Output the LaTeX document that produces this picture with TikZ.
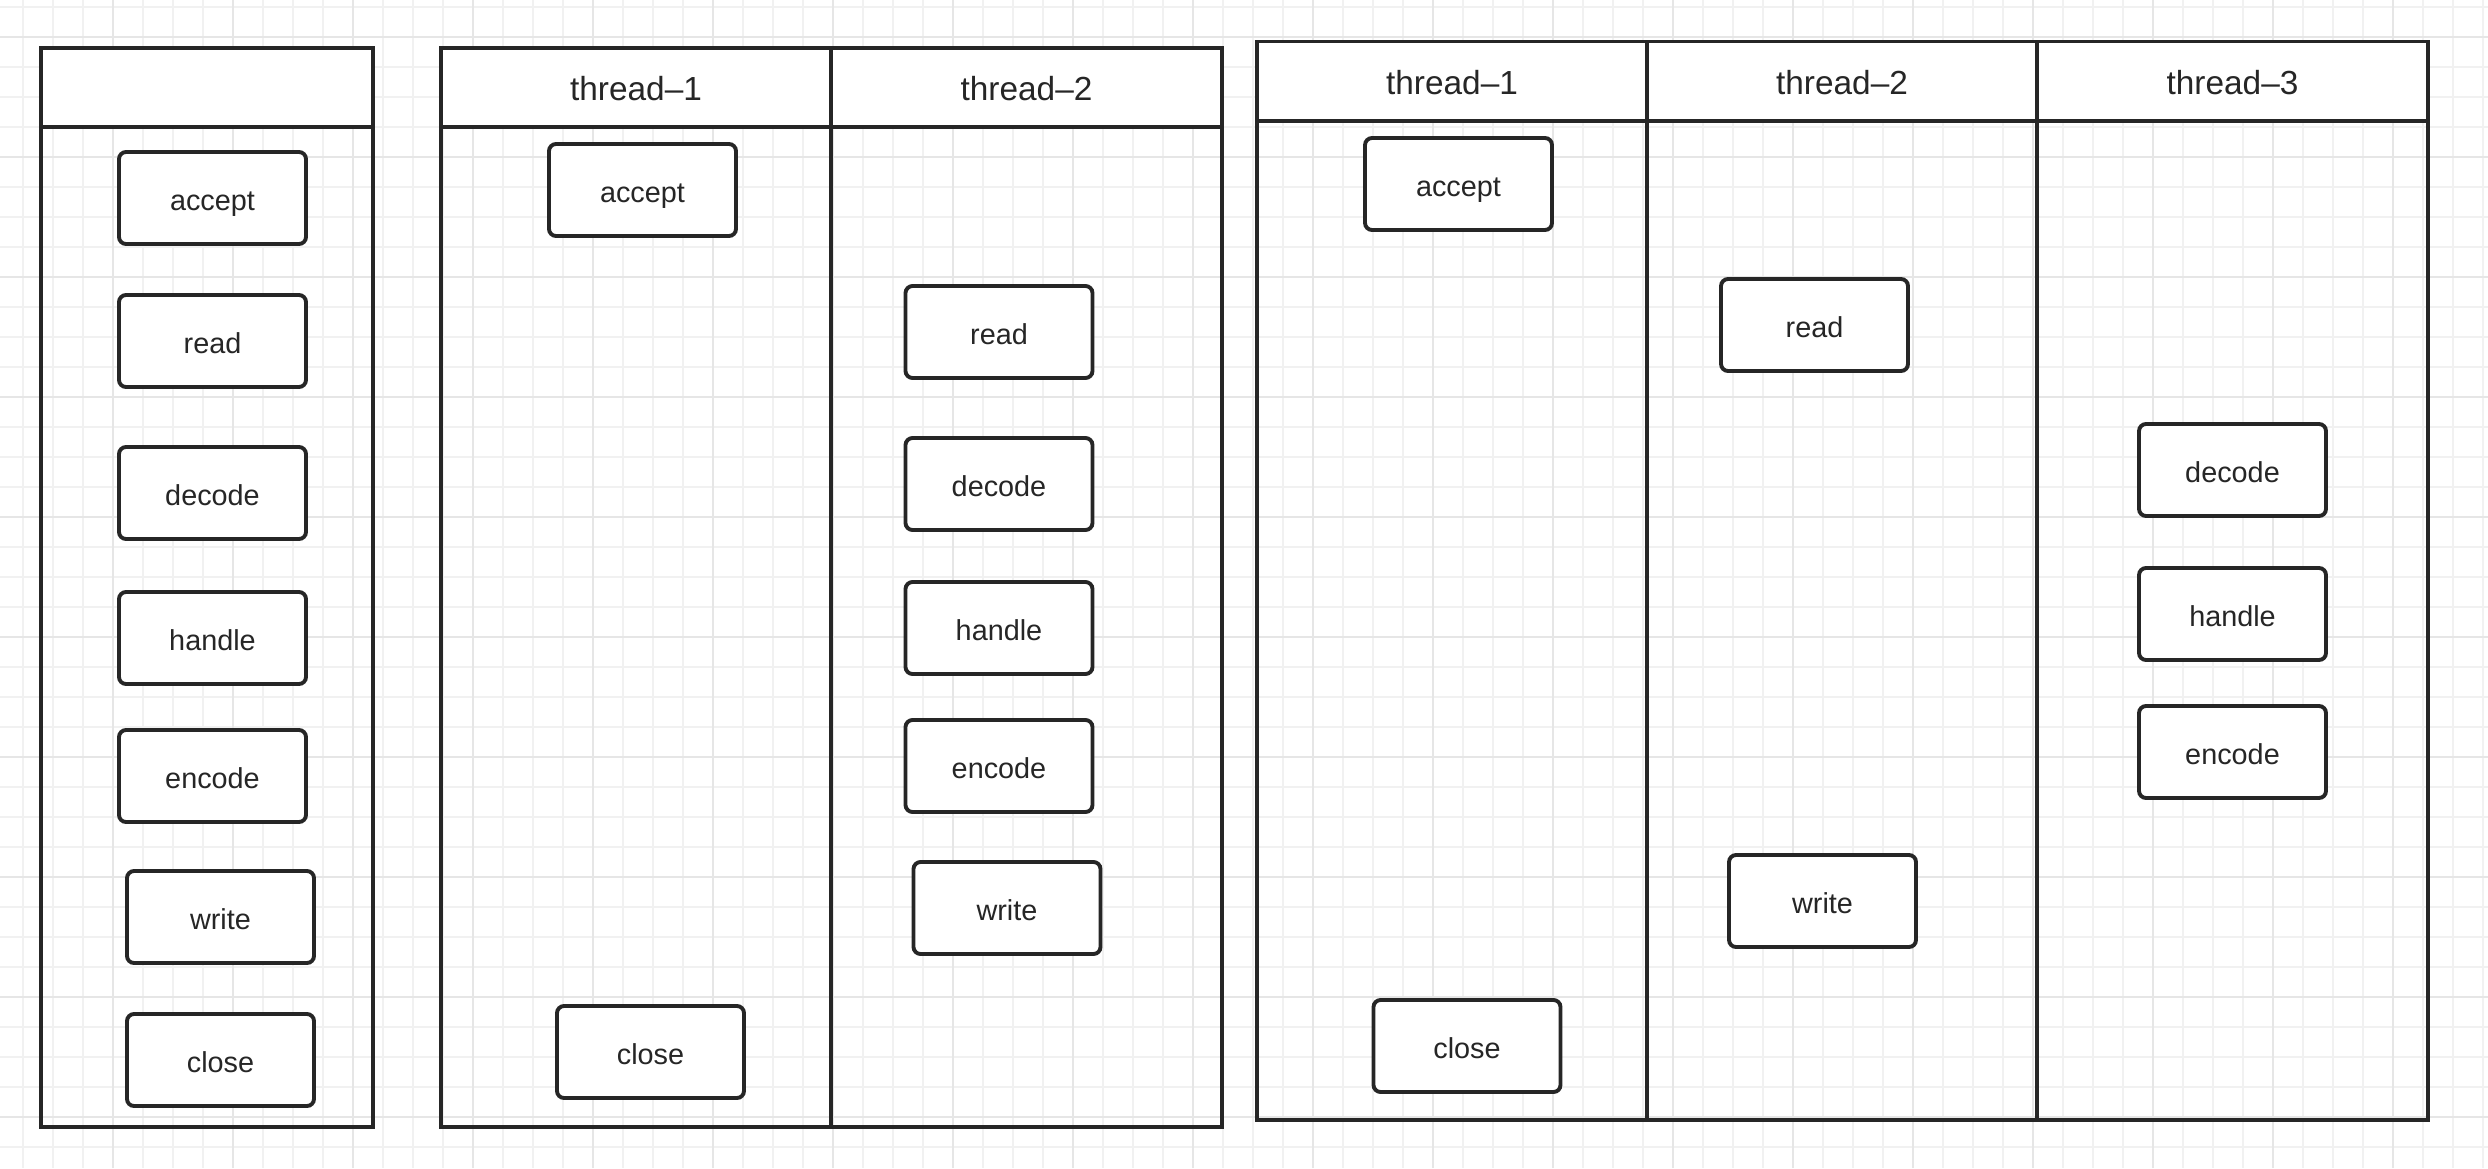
\documentclass[tikz,border=0pt]{standalone}
\usepackage{fontspec}
\setmainfont{Liberation Sans}
\usetikzlibrary{positioning}
\definecolor{cink}{HTML}{262626}
\definecolor{cgrid}{HTML}{F1F1F1}
\definecolor{cgridmajor}{HTML}{E6E6E6}
\tikzset{
  every picture/.style={line width=1pt},
  stage/.style={draw=cink, fill=white, rounded corners=2pt, minimum width=1.87cm, minimum height=0.92cm, inner sep=0pt, text height=1.3ex, text depth=0pt, font=\fontsize{8.2}{10}\selectfont, text=cink, line width=1.1pt},
  lane/.style={draw=cink, line width=1pt},
  lanetitle/.style={font=\fontsize{9.5}{11}\selectfont, text=cink, text height=1.45ex, text depth=0pt},
}
\begin{document}
\begin{tikzpicture}[
  gridline/.style={draw=cgrid, line width=0.45pt},
  gridmajor/.style={draw=cgridmajor, line width=0.55pt}]
  \useasboundingbox (0,0) rectangle (24.88,11.68);
  \fill[white] (0,0) rectangle (24.88,11.68);
  % background grid
  \foreach \k in {0,...,82} \draw[gridline] ({0.23+0.3*\k},0) -- ({0.23+0.3*\k},11.68);
  \foreach \k in {0,...,38} \draw[gridline] (0,{11.61-0.3*\k}) -- (24.88,{11.61-0.3*\k});
  \foreach \k in {0,...,19} \draw[gridmajor] ({1.13+1.2*\k},0) -- ({1.13+1.2*\k},11.68);
  \foreach \k in {0,...,9} \draw[gridmajor] (0,{11.31-1.2*\k}) -- (24.88,{11.31-1.2*\k});
  % single thread
  \fill[white] (0.41,10.41) rectangle (3.73,11.20);
  \draw[lane] (0.41,0.41) rectangle (3.73,11.20);
  \draw[lane] (0.41,10.41) -- (3.73,10.41);
  \node[stage] (saccept) at (2.125,9.70) {accept};
  \node[stage] (sread) at (2.125,8.27) {read};
  \node[stage] (sdecode) at (2.125,6.75) {decode};
  \node[stage] (shandle) at (2.125,5.30) {handle};
  \node[stage] (sencode) at (2.125,3.92) {encode};
  \node[stage] (swrite) at (2.205,2.51) {write};
  \node[stage] (sclose) at (2.205,1.08) {close};
  % two threads
  \fill[white] (4.41,10.41) rectangle (12.22,11.20);
  \draw[lane] (4.41,0.41) rectangle (12.22,11.20);
  \draw[lane] (4.41,10.41) -- (12.22,10.41);
  \draw[lane] (8.31,0.41) -- (8.31,11.20);
  \node[lanetitle] (dhone) at (6.36,10.805) {thread–1};
  \node[lanetitle] (dhtwo) at (10.265,10.805) {thread–2};
  \node[stage] (daccept) at (6.425,9.78) {accept};
  \node[stage] (dclose) at (6.505,1.16) {close};
  \node[stage] (dread) at (9.99,8.36) {read};
  \node[stage] (ddecode) at (9.99,6.84) {decode};
  \node[stage] (dhandle) at (9.99,5.40) {handle};
  \node[stage] (dencode) at (9.99,4.02) {encode};
  \node[stage] (dwrite) at (10.07,2.60) {write};
  % three threads
  \fill[white] (12.57,10.47) rectangle (24.28,11.265);
  \draw[lane] (12.57,0.48) rectangle (24.28,11.265);
  \draw[lane] (12.57,10.47) -- (24.28,10.47);
  \draw[lane] (16.47,0.48) -- (16.47,11.265);
  \draw[lane] (20.37,0.48) -- (20.37,11.265);
  \node[lanetitle] (thone) at (14.52,10.87) {thread–1};
  \node[lanetitle] (thtwo) at (18.42,10.87) {thread–2};
  \node[lanetitle] (ththree) at (22.325,10.87) {thread–3};
  \node[stage] (taccept) at (14.585,9.84) {accept};
  \node[stage] (tclose) at (14.67,1.22) {close};
  \node[stage] (tread) at (18.145,8.43) {read};
  \node[stage] (twrite) at (18.225,2.67) {write};
  \node[stage] (tdecode) at (22.325,6.98) {decode};
  \node[stage] (thandle) at (22.325,5.54) {handle};
  \node[stage] (tencode) at (22.325,4.16) {encode};
\end{tikzpicture}
\end{document}
